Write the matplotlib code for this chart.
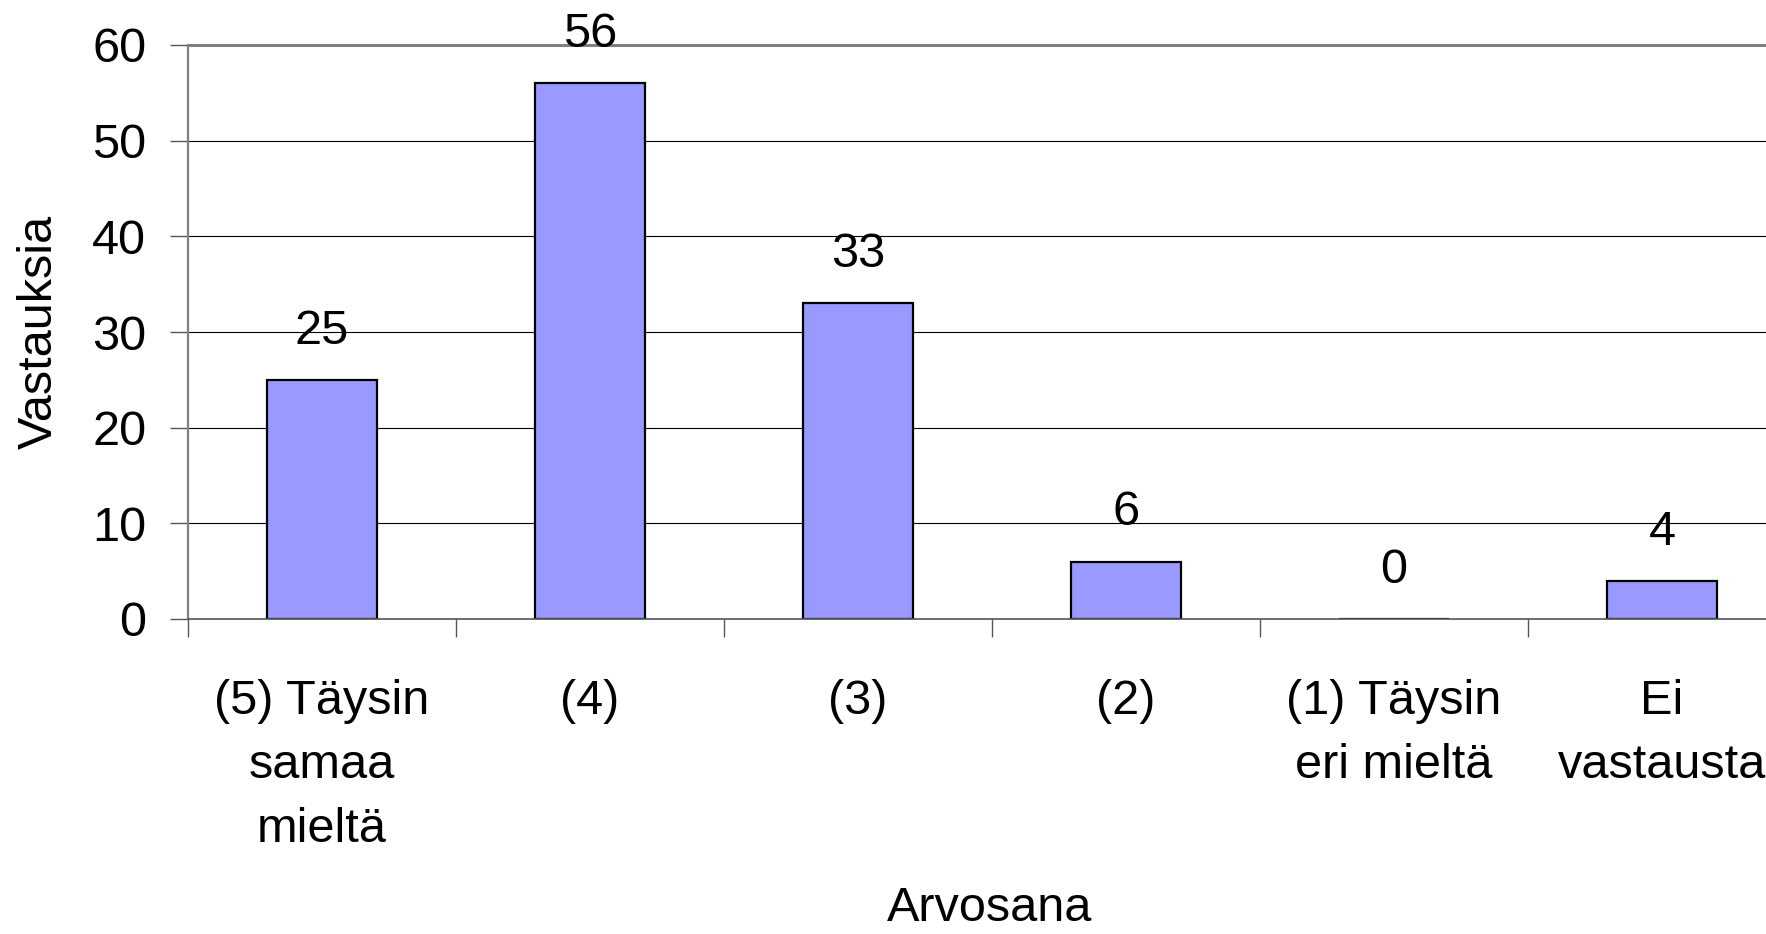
import matplotlib
matplotlib.use('Agg')
import matplotlib.pyplot as plt

plt.rcParams['font.family'] = ['Liberation Sans', 'DejaVu Sans']

categories = ['(5) Täysin\nsamaa\nmieltä', '(4)', '(3)', '(2)', '(1) Täysin\neri mieltä', 'Ei\nvastausta']
values = [25, 56, 33, 6, 0, 4]
yticks = [0, 10, 20, 30, 40, 50, 60]

W, H = 1766, 934
fig = plt.figure(figsize=(W / 100, H / 100), dpi=100)
ax = fig.add_axes([188 / W, 1 - 619 / H, 1608 / W, 574 / H])

x = list(range(len(categories)))
ax.bar(x, values, width=0.41, color='#9999ff', edgecolor='black', linewidth=1.6, zorder=3)

for xi, v in zip(x, values):
    ax.annotate(str(v), (xi, v), xytext=(0, 35), textcoords='offset points',
                ha='center', va='center', fontsize=35)

ax.set_xlim(-0.5, len(categories) - 0.5)
ax.set_ylim(0, 60)
ax.set_yticks(yticks)
ax.tick_params(axis='y', labelsize=35, direction='out', length=13, width=1, color='#555555', pad=17)

# category labels centred on bars, tick marks between categories
ax.set_xticks(x)
ax.set_xticklabels(categories, fontsize=35, linespacing=1.55)
ax.tick_params(axis='x', which='major', length=0, pad=43)
ax.set_xticks([i - 0.5 for i in range(len(categories) + 1)], minor=True)
ax.tick_params(axis='x', which='minor', length=13, width=1, color='#555555', direction='out')

for y in yticks[1:-1]:
    ax.axhline(y, color='black', linewidth=0.8, zorder=1)

ax.spines['top'].set_color('#808080')
ax.spines['top'].set_linewidth(2.2)
ax.spines['left'].set_color('#808080')
ax.spines['left'].set_linewidth(1.6)
ax.spines['bottom'].set_color('#555555')
ax.spines['bottom'].set_linewidth(1.2)
ax.spines['bottom'].set_zorder(4)
ax.spines['right'].set_visible(False)

ax.set_ylabel('Vastauksia', fontsize=35, va='center')
ax.yaxis.set_label_coords((39 - 188) / 1608, 0.5)
ax.set_xlabel('Arvosana', fontsize=35, va='baseline')
ax.xaxis.set_label_coords((990 - 188) / 1608, (619 - 921) / 574)

fig.savefig('out.png', dpi=100)
